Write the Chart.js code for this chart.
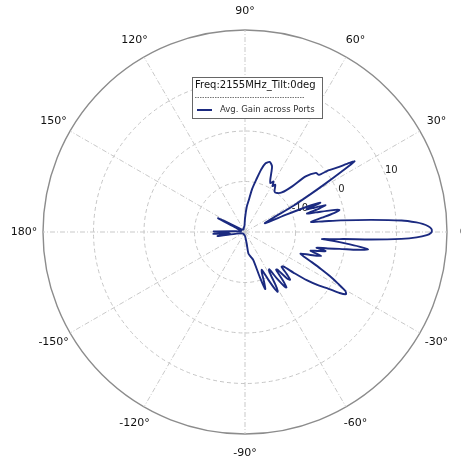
<!DOCTYPE html>
<html>
<head>
<meta charset="utf-8">
<script src="https://cdn.jsdelivr.net/npm/chart.js@4.4.1/dist/chart.umd.min.js"></script>
<style>
  html, body { margin: 0; padding: 0; background: #ffffff; overflow: hidden; }
  #wrap { width: 461px; height: 460px; position: relative; }
</style>
</head>
<body>
<div id="wrap"><canvas id="chart" width="461" height="460"></canvas></div>
<script>
// Azimuth cut: average gain across ports (dB) against azimuth angle
// (degrees, counter-clockwise from boresight at 0°).
const angleDeg = [
  -90, -84, -81.6, -81, -77, -73.5, -71.8, -70.5, -69, -67.5,
  -66, -64, -62.3, -61.3, -60, -58.5, -57, -55.5, -54, -53.2,
  -52, -50.5, -49.3, -47.8, -46.6, -45.3, -43.5, -42, -40, -38,
  -36, -34.2, -32.8, -31.6, -30.4, -29, -27.5, -26, -24.3, -22.5,
  -21.3, -19.5, -17.5, -16, -14.7, -13.3, -12.3, -11.3, -10.1, -9,
  -8.1, -7.3, -6.5, -5.8, -5.2, -4.6, -4.1, -3.4, -2.5, -1.8,
  -1, -0.3, 0.3, 1, 1.8, 2.6, 3.2, 4.2, 5.5, 6.9,
  7.8, 8.7, 10.5, 12, 13.2, 14.2, 15.5, 16.6, 17.6, 18.5,
  19.3, 20.2, 21.2, 22, 22.8, 23.8, 26.5, 28.5, 30, 31,
  32, 32.8, 33.5, 35, 36.5, 37.7, 39.8, 42.5, 44, 47,
  50.5, 53.8, 57.3, 59, 60.5, 62.5, 64.2, 66, 67.7, 70.6,
  73.3, 75.5, 78, 80.5, 83, 86, 90, 95, 105, 120,
  135, 146, 150.5, 152.8, 155, 162, 172, 176.5, 179, 181.5,
  183.5, 186, 188.5, 191, 200, 220, 240, 255
];
const gainDb = [
  -19.3, -18.6, -17.6, -15.7, -15, -14.2, -10.6, -8.0, -9.5, -11.3,
  -11.8, -9.5, -7.2, -6.5, -8, -10.8, -11.2, -8.8, -6.6, -6.3,
  -7.8, -10.3, -10.2, -7.6, -7, -8.2, -10, -9.8, -7.5, -4.5,
  -2, 0, 2.3, 3.5, 3, 1, -1, -3.2, -5.5, -7.5,
  -8.2, -6.5, -4.2, -6.5, -5.2, -3.6, -5.5, -3.3, -1, 2.5,
  4.6, 2.8, 0, -2.5, -4.7, -2, -0.5, 5, 11, 14,
  16, 16.8, 17, 16.9, 16.3, 15.2, 14, 11.1, 5.1, -0.9,
  -4.6, -6.8, -4.5, -2, -0.8, -2.5, -5.5, -7.2, -4.5, -3.2,
  -5.5, -7, -4, -6, -11, -15.7, -14, -9, -5, -1.5,
  2.5, 5.8, 4.8, 2.2, 0.5, -1.5, -1.7, -3.7, -7, -9.3,
  -10, -10.1, -8.9, -9.4, -8.5, -9.1, -8.5, -7.2, -5.9, -5.3,
  -5.8, -7.2, -9.5, -11.3, -13.5, -15, -17.3, -18.8, -19.1, -19.4,
  -19.3, -19, -17, -14, -18, -19.2, -19.1, -17.5, -13.8, -16.8,
  -13.7, -17, -14.5, -18.3, -19.3, -19.5, -19.5, -19.4
];

// Radial axis (dB) and angular grid (degrees, listed clockwise from 0°)
const radialMin = -20;
const radialMax = 20;
const radialStep = 10;
const radialTickLabels = [-10, 0, 10];
const angleTicks = [0, -30, -60, -90, -120, -150, 180, 150, 120, 90, 60, 30];

const legendTitle = 'Freq:2155MHz_Tilt:0deg';
const seriesName = 'Avg. Gain across Ports';
const lineColor = '#1b2a80';
const fontFamily = '"DejaVu Sans", Verdana, sans-serif';

// Polar samples expressed in the radial unit (distance above the axis minimum)
const curvePoints = angleDeg.map((a, i) => {
  const rad = a * Math.PI / 180;
  const rho = gainDb[i] - radialMin;
  return { x: rho * Math.cos(rad), y: rho * Math.sin(rad) };
});
curvePoints.push({ ...curvePoints[0] });

// Keeps the hidden cartesian axes in the same units and centre as the radial axis
const polarSync = {
  id: 'polarSync',
  afterLayout(chart) {
    const r = chart.scales.r, xs = chart.scales.x, ys = chart.scales.y;
    const upp = (r.max - r.min) / r.drawingArea;
    xs.min = (xs.left - r.xCenter) * upp;
    xs.max = (xs.right - r.xCenter) * upp;
    xs.configure();
    ys.min = (r.yCenter - ys.bottom) * upp;
    ys.max = (r.yCenter - ys.top) * upp;
    ys.configure();
  }
};

// Radial tick labels along the 22.5° direction
const radialLabels = {
  id: 'radialLabels',
  beforeDatasetsDraw(chart) {
    const r = chart.scales.r, ctx = chart.ctx;
    const t = 22.5 * Math.PI / 180;
    ctx.save();
    ctx.font = '10px ' + fontFamily;
    ctx.fillStyle = '#222222';
    ctx.textAlign = 'left';
    ctx.textBaseline = 'bottom';
    radialTickLabels.forEach(v => {
      const d = r.getDistanceFromCenterForValue(v);
      ctx.fillText(String(v), r.xCenter + d * Math.cos(t), r.yCenter - d * Math.sin(t) + 1);
    });
    ctx.restore();
  }
};

// Angle labels centred just outside the outer ring
const angleLabels = {
  id: 'angleLabels',
  afterDraw(chart) {
    const r = chart.scales.r, ctx = chart.ctx;
    ctx.save();
    ctx.font = '11px ' + fontFamily;
    ctx.fillStyle = '#111111';
    ctx.textAlign = 'center';
    ctx.textBaseline = 'middle';
    chart.data.labels.forEach((lab, i) => {
      const p = r.getPointPosition(i, r.drawingArea + 19);
      ctx.fillText(lab, p.x, p.y);
    });
    ctx.restore();
  }
};

// Boxed legend with title, dotted separator and the series entry
const legendBox = {
  id: 'legendBox',
  afterDraw(chart) {
    const ctx = chart.ctx;
    const x0 = 192, y0 = 77, w = 130, h = 41;
    ctx.save();
    ctx.fillStyle = '#ffffff';
    ctx.fillRect(x0, y0, w, h);
    ctx.strokeStyle = '#666666';
    ctx.lineWidth = 1;
    ctx.strokeRect(x0 + 0.5, y0 + 0.5, w, h);

    ctx.fillStyle = '#111111';
    ctx.font = '10px ' + fontFamily;
    ctx.textAlign = 'left';
    ctx.textBaseline = 'middle';
    ctx.fillText(legendTitle, x0 + 3, y0 + 8.5);

    ctx.strokeStyle = '#777777';
    ctx.setLineDash([1.5, 1]);
    ctx.beginPath();
    ctx.moveTo(x0 + 3, y0 + 20.5);
    ctx.lineTo(x0 + 113, y0 + 20.5);
    ctx.stroke();
    ctx.setLineDash([]);

    ctx.strokeStyle = lineColor;
    ctx.lineWidth = 2;
    ctx.beginPath();
    ctx.moveTo(x0 + 5, y0 + 33);
    ctx.lineTo(x0 + 20, y0 + 33);
    ctx.stroke();

    ctx.fillStyle = '#333333';
    ctx.font = '8.5px ' + fontFamily;
    ctx.fillText(seriesName, x0 + 28, y0 + 33);
    ctx.restore();
  }
};

new Chart(document.getElementById('chart'), {
  type: 'scatter',
  data: {
    labels: angleTicks.map(a => a + '°'),
    datasets: [{
      label: seriesName,
      data: curvePoints,
      showLine: true,
      borderColor: lineColor,
      backgroundColor: lineColor,
      borderWidth: 1.9,
      pointRadius: 0,
      pointHoverRadius: 0,
      tension: 0.25,
      fill: false
    }]
  },
  options: {
    responsive: false,
    animation: false,
    events: [],
    layout: { padding: { left: 43, right: 14, top: 30, bottom: 26 } },
    plugins: { legend: { display: false }, tooltip: { enabled: false } },
    scales: {
      x: { type: 'linear', display: false, min: -40, max: 40 },
      y: { type: 'linear', display: false, min: -40, max: 40 },
      r: {
        type: 'radialLinear',
        min: radialMin,
        max: radialMax,
        startAngle: 90,
        ticks: { display: false, stepSize: radialStep },
        pointLabels: { display: false },
        grid: {
          circular: true,
          color: c => (c.tick && c.tick.value === radialMax) ? '#8c8c8c' : '#c6c6c6',
          lineWidth: c => (c.tick && c.tick.value === radialMax) ? 1.4 : 1
        },
        border: {
          dash: c => (c.tick && c.tick.value === radialMax) ? [] : [4, 3]
        },
        angleLines: { color: '#c9c9c9', lineWidth: 1, borderDash: [5, 2, 1, 2] }
      }
    }
  },
  plugins: [polarSync, radialLabels, angleLabels, legendBox]
});
</script>
</body>
</html>
